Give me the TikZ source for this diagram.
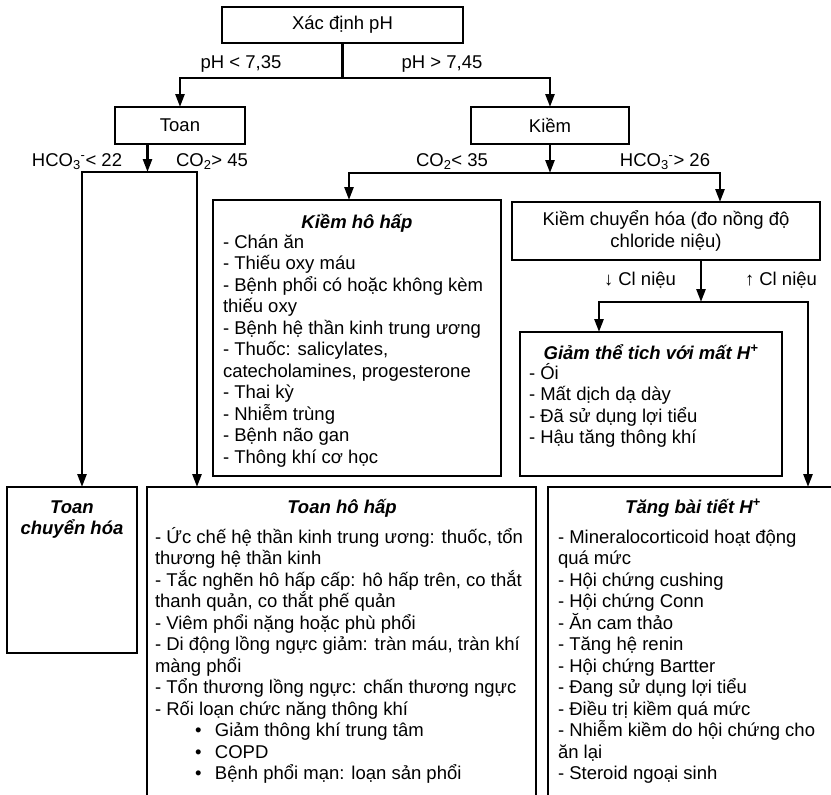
\documentclass[tikz,border=0pt]{standalone}
\usepackage{fontspec}
\setmainfont{Liberation Sans}
\usetikzlibrary{arrows.meta,calc}
\tikzset{ahead/.tip={Triangle[length=13pt,width=9pt]}}
\begin{document}
\begin{tikzpicture}[x=1pt,y=-1pt,
  txt/.style={font=\fontsize{18.5pt}{21.5pt}\selectfont},
  every node/.style={txt, inner sep=0pt, outer sep=0pt},
  box/.style={draw, line width=2pt, anchor=north west, align=center},
  conn/.style={line width=2.6pt},
  arr/.style={conn, -ahead},
  dbl/.style={conn, ahead-ahead},
  lbl/.style={anchor=base},
  % multi-line nodes: the base anchor sits on the last line
  items/.style={anchor=base west, align=left},
  ttl/.style={anchor=base, font=\fontsize{18.5pt}{21.5pt}\selectfont\bfseries\itshape},
]
\useasboundingbox (0,0) rectangle (831,795);
\clip (0,0) rectangle (831,795);
\fill[white] (0,0) rectangle (831,795);

% decision boxes
\node[box, minimum width=241pt, minimum height=36pt] (ph) at (222,7) {Xác định pH};
\node[box, minimum width=130pt, minimum height=37pt] (toan) at (115,107) {Toan};
\node[box, minimum width=158pt, minimum height=37pt] (kiem) at (471,107) {Kiềm};
\node[box, minimum width=308pt, minimum height=58pt] (kch) at (512,202) {Kiềm chuyển hóa (đo nồng độ\\chloride niệu)};

% list boxes (the bottom row runs off the page)
\node[box, minimum width=288pt, minimum height=276pt] (khh) at (213,200) {};
\node[box, minimum width=262pt, minimum height=144pt] (giam) at (520,332) {};
\node[box, minimum width=130pt, minimum height=166pt] (tch) at (7,487) {};
\node[box, minimum width=389pt, minimum height=340pt] (thh) at (147,487) {};
\node[box, minimum width=300pt, minimum height=340pt] (tang) at (548,487) {};

% box contents
\node[ttl] (khht) at (357,228) {Kiềm hô hấp};
\node[items] (khhl) at (223,463) {- Chán ăn\\- Thiếu oxy máu\\- Bệnh phổi có hoặc không kèm\\thiếu oxy\\- Bệnh hệ thần kinh trung ương\\- Thuốc: salicylates,\\catecholamines, progesterone\\- Thai kỳ\\- Nhiễm trùng\\- Bệnh não gan\\- Thông khí cơ học};

\node[ttl] (giamt) at (651,359) {Giảm thể tich với mất H\textsuperscript{+}};
\node[items] (giaml) at (529,443.5) {- Ói\\- Mất dịch dạ dày\\- Đã sử dụng lợi tiểu\\- Hậu tăng thông khí};

\node[ttl, align=center] (tcht) at (72,534.5) {Toan\\chuyển hóa};

\node[ttl] (thht) at (342,513) {Toan hô hấp};
\node[items] (thhl) at (155,779.5) {- Ức chế hệ thần kinh trung ương: thuốc, tổn\\thương hệ thần kinh\\- Tắc nghẽn hô hấp cấp: hô hấp trên, co thắt\\thanh quản, co thắt phế quản\\- Viêm phổi nặng hoặc phù phổi\\- Di động lồng ngực giảm: tràn máu, tràn khí\\màng phổi\\- Tổn thương lồng ngực: chấn thương ngực\\- Rối loạn chức năng thông khí\\
\hspace*{40pt}\makebox[20pt][l]{•}Giảm thông khí trung tâm\\
\hspace*{40pt}\makebox[20pt][l]{•}COPD\\
\hspace*{40pt}\makebox[20pt][l]{•}Bệnh phổi mạn: loạn sản phổi};

\node[ttl] (tangt) at (693,513) {Tăng bài tiết H\textsuperscript{+}};
\node[items] (tangl) at (558,779.5) {- Mineralocorticoid hoạt động\\quá mức\\- Hội chứng cushing\\- Hội chứng Conn\\- Ăn cam thảo\\- Tăng hệ renin\\- Hội chứng Bartter\\- Đang sử dụng lợi tiểu\\- Điều trị kiềm quá mức\\- Nhiễm kiềm do hội chứng cho\\ăn lại\\- Steroid ngoại sinh};

% branch points
\coordinate (j1) at (342.5,78);
\coordinate (j1l) at (180,78);
\coordinate (j1r) at (550,78);
\coordinate (j2) at (147.5,172);
\coordinate (j2l) at (82,172);
\coordinate (j2r) at (197,172);
\coordinate (j3) at (550,173);
\coordinate (j3l) at (349,173);
\coordinate (j3r) at (720,173);
\coordinate (j4) at (701,302);
\coordinate (j4l) at (599,302);
\coordinate (j4r) at (808,302);

% connectors
\draw[conn] (ph.south) -- (j1);
\draw[dbl] (toan.north) -- (j1l) -- (j1r) -- (kiem.north);
\draw[arr] ($(toan.south west)!.25!(toan.south east)$) -- (j2);
\draw[dbl] (j2l |- tch.north) -- (j2l) -- (j2r) -- (j2r |- thh.north);
\draw[arr] (kiem.south) -- (j3);
\draw[dbl] (j3l |- khh.north) -- (j3l) -- (j3r) -- (j3r |- kch.north);
\draw[arr] (j4 |- kch.south) -- (j4);
\draw[dbl] (j4l |- giam.north) -- (j4l) -- (j4r) -- (j4r |- tang.north);

% branch labels
\node[lbl] (l1) at (241,68) {pH < 7,35};
\node[lbl] (l2) at (442,68) {pH > 7,45};
\node[lbl] (l3) at (77,166) {HCO\textsubscript{3}\textsuperscript{-}< 22};
\node[lbl] (l4) at (212,166) {CO\textsubscript{2}> 45};
\node[lbl] (l5) at (452,166) {CO\textsubscript{2}< 35};
\node[lbl] (l6) at (665,166) {HCO\textsubscript{3}\textsuperscript{-}> 26};
\node[lbl] (l7) at (640,285) {↓ Cl niệu};
\node[lbl] (l8) at (781,285) {↑ Cl niệu};
\end{tikzpicture}
\end{document}
